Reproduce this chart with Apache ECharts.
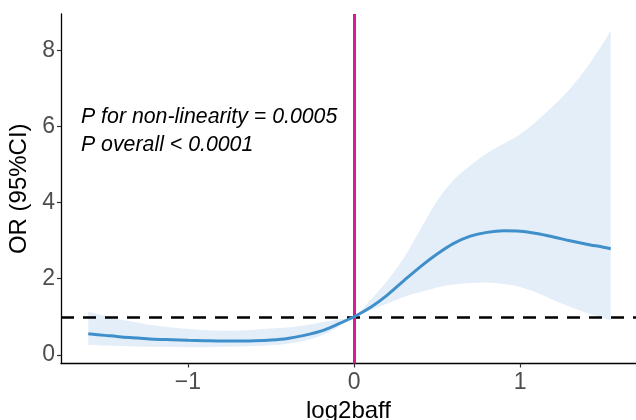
<!DOCTYPE html>
<html>
<head>
<meta charset="utf-8">
<script src="https://cdn.jsdelivr.net/npm/echarts@6/dist/echarts.min.js"></script>
<style>html,body{margin:0;padding:0;background:#fff}#c{width:636px;height:420px}</style>
</head>
<body>
<div id="c"></div>
<script>
const xVals = [-1.6, -1.5, -1.4, -1.3, -1.2, -1.1, -1.0, -0.9, -0.8, -0.7, -0.6, -0.5, -0.4, -0.3, -0.2, -0.1, 0, 0.1, 0.2, 0.3, 0.4, 0.5, 0.6, 0.7, 0.8, 0.9, 1.0, 1.1, 1.2, 1.3, 1.4, 1.5, 1.545];
const orVals = [0.55, 0.51, 0.47, 0.44, 0.41, 0.395, 0.38, 0.37, 0.36, 0.36, 0.37, 0.39, 0.43, 0.51, 0.62, 0.80, 1.0, 1.25, 1.57, 1.95, 2.32, 2.65, 2.93, 3.12, 3.22, 3.26, 3.25, 3.19, 3.10, 3.00, 2.91, 2.83, 2.79];
const upperVals = [1.13, 1.02, 0.92, 0.84, 0.77, 0.72, 0.68, 0.65, 0.63, 0.64, 0.66, 0.69, 0.72, 0.77, 0.85, 0.93, 1.0, 1.45, 1.95, 2.55, 3.3, 4.05, 4.6, 4.98, 5.3, 5.55, 5.8, 6.15, 6.55, 7.0, 7.55, 8.2, 8.54];
const lowerVals = [0.26, 0.245, 0.23, 0.22, 0.21, 0.205, 0.20, 0.20, 0.21, 0.22, 0.23, 0.25, 0.29, 0.37, 0.50, 0.72, 1.0, 1.18, 1.35, 1.52, 1.65, 1.77, 1.85, 1.89, 1.90, 1.86, 1.78, 1.63, 1.44, 1.26, 1.10, 0.97, 0.91];
const xTicks = [-1, 0, 1];
const yTicks = [0, 2, 4, 6, 8];
const refY = 1;
const refX = 0;
const annot = ['P for non-linearity = 0.0005', 'P overall < 0.0001'];

const chart = echarts.init(document.getElementById('c'), null, {renderer: 'canvas'});
const fmt = v => (v < 0 ? '\u2212' + Math.abs(v) : String(v));
const pair = arr => xVals.map((x, i) => [x, arr[i]]);

// Catmull-Rom -> cubic bezier path through pixel points
function curveSeg(pts, start) {
  let d = start ? 'M' + pts[0][0] + ' ' + pts[0][1] : 'L' + pts[0][0] + ' ' + pts[0][1];
  for (let i = 0; i < pts.length - 1; i++) {
    const p0 = pts[i - 1] || pts[i], p1 = pts[i], p2 = pts[i + 1], p3 = pts[i + 2] || p2;
    const c1 = [p1[0] + (p2[0] - p0[0]) / 6, p1[1] + (p2[1] - p0[1]) / 6];
    const c2 = [p2[0] - (p3[0] - p1[0]) / 6, p2[1] - (p3[1] - p1[1]) / 6];
    d += 'C' + c1[0] + ' ' + c1[1] + ' ' + c2[0] + ' ' + c2[1] + ' ' + p2[0] + ' ' + p2[1];
  }
  return d;
}

chart.setOption({
  animation: false,
  grid: {left: 61, right: 0, top: 14, bottom: 56.5, containLabel: false, outerBoundsMode: 'none'},
  xAxis: {
    type: 'value', min: -1.764, max: 1.697,
    splitLine: {show: false},
    axisLine: {show: true, onZero: false, lineStyle: {color: '#000', width: 1.3}},
    axisTick: {show: true, length: 4, lineStyle: {color: '#333', width: 1.2}, customValues: xTicks},
    axisLabel: {customValues: xTicks, formatter: fmt, color: '#4d4d4d', fontSize: 23, fontFamily: 'Liberation Sans', margin: 8},
    name: 'log2baff', nameLocation: 'middle', nameGap: 34,
    nameTextStyle: {color: '#000', fontSize: 24, fontFamily: 'Liberation Sans'}
  },
  yAxis: {
    type: 'value', min: -0.23, max: 8.966,
    splitLine: {show: false},
    axisLine: {show: true, onZero: false, lineStyle: {color: '#000', width: 1.3}},
    axisTick: {show: true, length: 4, lineStyle: {color: '#333', width: 1.2}, customValues: yTicks},
    axisLabel: {customValues: yTicks, formatter: fmt, color: '#4d4d4d', fontSize: 23, fontFamily: 'Liberation Sans', margin: 6},
    name: 'OR (95%CI)', nameLocation: 'middle', nameGap: 28,
    nameTextStyle: {color: '#000', fontSize: 24, fontFamily: 'Liberation Sans'}
  },
  series: [
    {
      type: 'custom', silent: true, z: 1,
      data: [[xVals[0], lowerVals[0]]],
      renderItem: (params, api) => {
        const up = xVals.map((x, i) => api.coord([x, upperVals[i]]));
        const lo = xVals.map((x, i) => api.coord([x, lowerVals[i]])).reverse();
        const d = curveSeg(up, true) + curveSeg(lo, false) + 'Z';
        return {type: 'path', shape: {pathData: d}, style: {fill: '#e3eef8', stroke: null}};
      }
    },
    {
      type: 'line', data: pair(orVals), smooth: 0.3, symbol: 'none',
      lineStyle: {color: '#3f8fca', width: 3}, z: 5,
      markLine: {
        silent: true, symbol: 'none', label: {show: false}, animation: false,
        data: [
          {yAxis: refY, lineStyle: {color: '#000', type: [13, 9], width: 2.6}},
          {xAxis: refX, lineStyle: {color: '#dd1a96', type: 'solid', width: 3}}
        ]
      }
    }
  ],
  graphic: annot.map((t, i) => ({
    type: 'text', left: 81, top: 107 + i * 28,
    style: {text: t, fill: '#000', font: 'italic 21.3px "Liberation Sans"'}
  }))
});
</script>
</body>
</html>
